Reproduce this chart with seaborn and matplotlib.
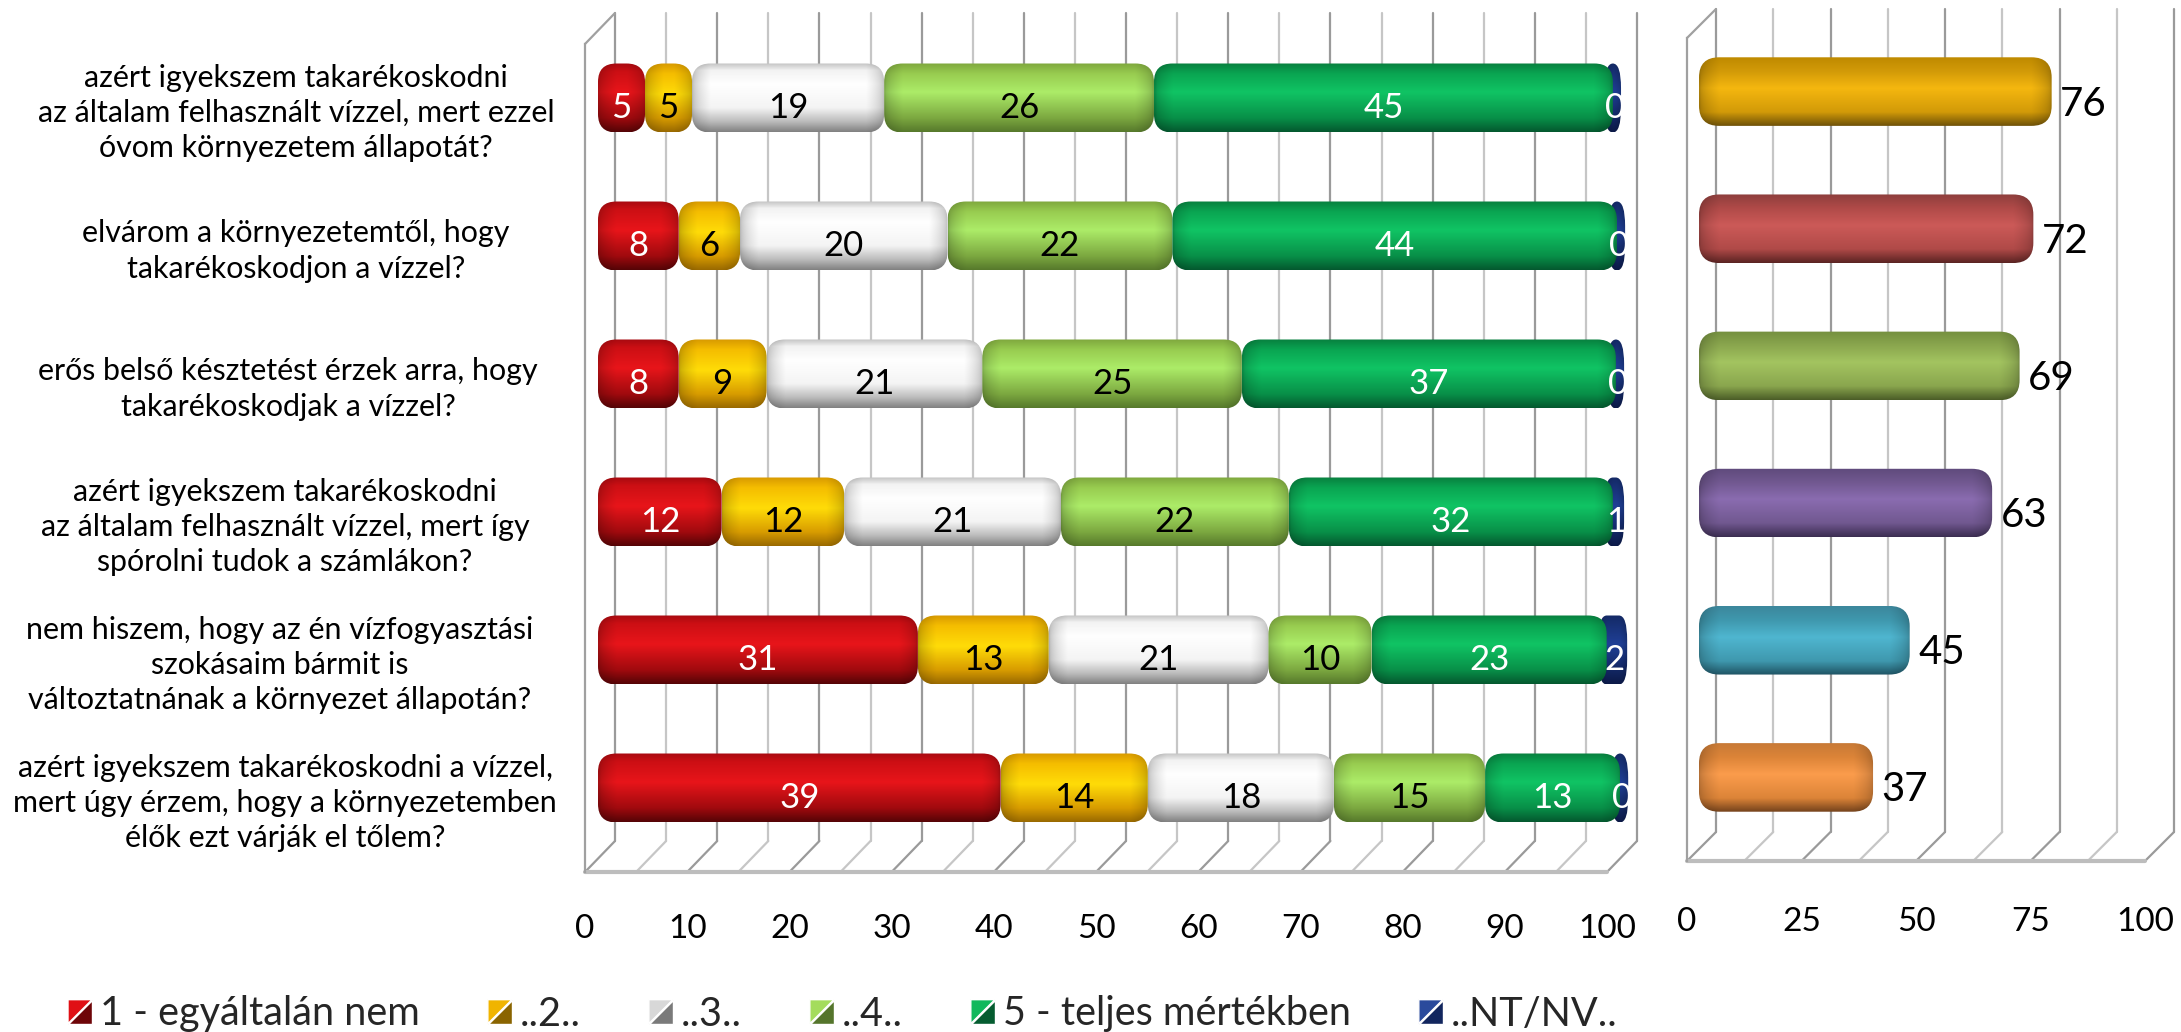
import numpy as np
import matplotlib
matplotlib.use('Agg')
import matplotlib.pyplot as plt
import seaborn as sns
from matplotlib.legend_handler import HandlerBase
from matplotlib.patches import FancyBboxPatch, Patch, Polygon

W, H = 2181, 1032

questions = [
    "azért igyekszem takarékoskodni\naz általam felhasznált vízzel, mert ezzel\nóvom környezetem állapotát?",
    "elvárom a környezetemtől, hogy\ntakarékoskodjon a vízzel?",
    "erős belső késztetést érzek arra, hogy\ntakarékoskodjak a vízzel?",
    "azért igyekszem takarékoskodni\naz általam felhasznált vízzel, mert így\nspórolni tudok a számlákon?",
    "nem hiszem, hogy az én vízfogyasztási\nszokásaim bármit is\nváltoztatnának a környezet állapotán?",
    "azért igyekszem takarékoskodni a vízzel,\nmert úgy érzem, hogy a környezetemben\nélők ezt várják el tőlem?",
]
legend_labels = ["1 - egyáltalán nem", "..2..", "..3..", "..4..", "5 - teljes mértékben", "..NT/NV.."]

# bar lengths, labels are what the chart prints
answer_1 = [4.6, 7.9, 7.9, 12.1, 31.3, 39.4]
answer_2 = [4.6, 6.0, 8.6, 12.0, 12.8, 14.4]
answer_3 = [18.8, 20.3, 21.1, 21.2, 21.5, 18.2]
answer_4 = [26.4, 22.0, 25.4, 22.3, 10.1, 14.8]
answer_5 = [44.9, 43.5, 36.6, 31.7, 23.0, 13.2]
answer_nt = [0.4, 0.4, 0.4, 0.7, 1.6, 0.4]
labels_1 = [5, 8, 8, 12, 31, 39]
labels_2 = [5, 6, 9, 12, 13, 14]
labels_3 = [19, 20, 21, 21, 21, 18]
labels_4 = [26, 22, 25, 22, 10, 15]
labels_5 = [45, 44, 37, 32, 23, 13]
labels_nt = [0, 0, 0, 1, 2, 0]

right_values = [76, 72, 69, 63, 45, 37]

# gradients, top to bottom: (position, colour)
RED = [(0, '#a80a10'), (.12, '#cc0f14'), (.42, '#e8151a'), (.8, '#a00a0e'), (1, '#560406')]
GOLD = [(0, '#d89a00'), (.15, '#f5bd00'), (.45, '#ffdc08'), (.8, '#d89c00'), (1, '#9a6a00')]
WHITE = [(0, '#c4c4c4'), (.1, '#f2f2f2'), (.3, '#ffffff'), (.65, '#f4f4f4'), (.85, '#bcbcbc'), (1, '#828282')]
LGREEN = [(0, '#7fa83e'), (.15, '#98cc50'), (.42, '#acec68'), (.8, '#7ca840'), (1, '#577a2c')]
GREEN = [(0, '#08803f'), (.15, '#0aa552'), (.42, '#10c464'), (.8, '#089048'), (1, '#04592f')]
NAVY = [(0, '#142a66'), (.42, '#1f3f96'), (1, '#0c1a48')]
stacked = [
    (answer_1, labels_1, RED, 'white'),
    (answer_2, labels_2, GOLD, 'black'),
    (answer_3, labels_3, WHITE, 'black'),
    (answer_4, labels_4, LGREEN, 'black'),
    (answer_5, labels_5, GREEN, 'white'),
    (answer_nt, labels_nt, NAVY, 'white'),
]
legend_tones = [('#e01015', '#6e0508'), ('#f0b400', '#8a6400'), ('#d8d8d8', '#7a7a7a'),
                ('#a4dc5c', '#55752c'), ('#10b85c', '#055c30'), ('#2a4a9c', '#12265e')]

RIGHT_STOPS = [
    [(0, c2), (.2, c1), (.45, c3), (.8, c1), (1, c4)]
    for c1, c2, c3, c4 in [
        ('#d29a08', '#bf8a00', '#f5b70f', '#6f5208'),
        ('#b04a48', '#8e3f3d', '#cc5a58', '#5c2423'),
        ('#8aa64e', '#75903f', '#a3c460', '#4c5e28'),
        ('#715890', '#5f4a7c', '#8a6cb0', '#3c2e52'),
        ('#3f98ae', '#3c879c', '#4fb6d0', '#1f5464'),
        ('#dc8438', '#c87a36', '#fb9c4c', '#75431c'),
    ]
]

# horizontal centre of each question block, in pixels
question_x = [296, 296, 288, 285, 280, 285]


def px_axes(x0, x1, y_top, y_bottom):
    return fig.add_axes([x0 / W, 1 - y_bottom / H, (x1 - x0) / W, (y_bottom - y_top) / H])


def glossy(ax, rect, stops, radius, aspect, extra=0, back=0, zorder=3):
    """Swap a square seaborn bar for a rounded one with a cylinder shading."""
    x, y, w, h = rect.get_x() - back, rect.get_y(), rect.get_width() + extra + back, rect.get_height()
    rect.set_visible(False)
    radius = min(radius, w / 2)
    pos = [s[0] for s in stops]
    rgb = np.array([matplotlib.colors.to_rgb(s[1]) for s in stops])
    ys = np.linspace(0, 1, 80)
    col = np.column_stack([np.interp(ys, pos, rgb[:, i]) for i in range(3)])
    xs = np.linspace(0, w, 200)
    ends = np.clip(np.minimum(xs, w - xs) / radius, 0, 1)
    fac = 0.72 + 0.28 * np.sqrt(ends)
    img = np.clip(col[:, None, :] * fac[None, :, None], 0, 1)
    shape = FancyBboxPatch((x, y), w, h, boxstyle=f'round,pad=0,rounding_size={radius}',
                           mutation_aspect=aspect, facecolor='none', edgecolor='none',
                           transform=ax.transData, clip_on=False)
    ax.add_patch(shape)
    im = ax.imshow(img, extent=(x, x + w, y + h, y), aspect='auto', zorder=zorder, interpolation='bilinear')
    im.set_clip_box(fig.bbox)
    im.set_clip_path(shape)


def draw_box(ax, step, major, depth_x, depth_y):
    """The open 3D box: back wall, floor and the two axis lines."""
    n = int(round(100 / step))
    for i in range(n + 1):
        k = i * step
        strong = i % 2 == 0
        c = '#9a9a9a' if strong else '#c6c6c6'
        lw = 1.6
        ax.plot([k + depth_x] * 2, [5.5 - depth_y, -0.5 - depth_y], color=c, lw=lw, clip_on=False, zorder=1)
        ax.plot([k, k + depth_x], [5.5, 5.5 - depth_y], color=c, lw=lw, clip_on=False, zorder=1)
    ax.plot([0, depth_x], [-0.5, -0.5 - depth_y], color='#a0a0a0', lw=1.6, clip_on=False, zorder=1)
    ax.plot([0, 100], [5.5, 5.5], color='#bdbdbd', lw=3, clip_on=False, zorder=1)
    for s in ['top', 'right', 'bottom']:
        ax.spines[s].set_visible(False)
    ax.spines['left'].set_color('#a0a0a0')
    ax.spines['left'].set_linewidth(1.6)
    ax.set_xlim(0, 100)
    ax.set_ylim(5.5, -0.5)
    ax.set_xticks(np.arange(0, 100 + major, major))
    ax.set_yticks(np.arange(-0.5, 6, 1))
    ax.set_yticklabels([])
    ax.tick_params(axis='x', length=10, width=1.2, color='#a8a8a8', labelsize=24, labelcolor='black')
    ax.set_facecolor('none')


class SplitSquare(HandlerBase):
    def create_artists(self, legend, orig, xd, yd, width, height, fontsize, trans):
        light, dark = orig.tones
        s = width
        y0 = (height - s) / 2
        a = Polygon([[0, y0], [s, y0 + s], [0, y0 + s]], facecolor=light, transform=trans)
        b = Polygon([[0, y0], [s, y0], [s, y0 + s]], facecolor=dark, transform=trans)
        return [a, b]


sns.set_theme(style='white')
plt.rcParams['font.family'] = ['Lato', 'DejaVu Sans']

fig = plt.figure(figsize=(W / 100, H / 100), dpi=100)
row_ids = [f'q{i}' for i in range(len(questions))]

# left chart
ax_box = px_axes(585, 1607, 44, 872)
draw_box(ax_box, 5, 10, 30 / 10.22, 31 / 138)
ax_box.tick_params(axis='y', length=7, width=1.2, color='#a8a8a8')
ax_box.tick_params(axis='x', pad=20)
for i, q in enumerate(questions):
    ax_box.annotate(q, xy=(question_x[i] / W, i), xycoords=('figure fraction', 'data'), ha='center', va='center',
                    multialignment='center', fontsize=21.9, linespacing=1.31, color='black')

ax_bars = px_axes(598, 1620, 29, 857)
left = np.zeros(len(row_ids))
aspect_l = (1 / 138) / (1 / 10.22)
for vals, labels, stops, txt in stacked:
    is_nt = stops is NAVY
    sns.barplot(x=vals, y=row_ids, left=left, width=0.5, orient='h', color='grey',
                errorbar=None, ax=ax_bars)
    for rect, lab in zip(ax_bars.containers[-1], labels):
        # the NT/NV sliver is a thin oval coming out from behind the green bar
        if is_nt:
            glossy(ax_bars, rect, stops, 0.8, aspect_l * 3, extra=0.4, back=0.8, zorder=2.5)
        else:
            glossy(ax_bars, rect, stops, 1.8, aspect_l)
        ax_bars.annotate(str(lab), xy=(rect.get_x() + rect.get_width() / 2, rect.get_y() + 0.25),
                         xytext=(0, -7), textcoords='offset points', ha='center', va='center',
                         fontsize=25, color=txt, zorder=5, annotation_clip=False)
    left = left + np.array(vals)
ax_bars.set_xlim(0, 100)
ax_bars.set_ylim(5.5, -0.5)
ax_bars.axis('off')

# right chart
ax_box2 = px_axes(1687, 2145, 38, 861)
draw_box(ax_box2, 12.5, 25, 29 / 4.58, 29 / 137.2)
ax_box2.tick_params(axis='y', length=0)
ax_box2.tick_params(axis='x', pad=23)

ax_bars2 = px_axes(1699, 2157, 23, 846)
sns.barplot(x=right_values, y=row_ids, width=0.5, orient='h', color='grey', errorbar=None, ax=ax_bars2)
aspect_r = (1 / 137.2) / (1 / 4.58)
for rect, val, stops in zip(ax_bars2.containers[-1], right_values, RIGHT_STOPS):
    glossy(ax_bars2, rect, stops, 4.4, aspect_r, extra=1)
    ax_bars2.annotate(str(val), xy=(rect.get_width() + 1, rect.get_y() + 0.25), xytext=(6, -9),
                      textcoords='offset points', ha='left', va='center', fontsize=29, color='black', zorder=5)
ax_bars2.set_xlim(0, 100)
ax_bars2.set_ylim(5.5, -0.5)
ax_bars2.axis('off')

# legend along the bottom
handles = []
for tones, lab in zip(legend_tones, legend_labels):
    h = Patch(label=lab)
    h.tones = tones
    handles.append(h)
fig.legend(handles=handles, handler_map={Patch: SplitSquare()}, loc='center left',
           bbox_to_anchor=(68 / W, 1 - 1014 / H), ncol=6, frameon=False, fontsize=28.5,
           handlelength=0.606, handleheight=0.7, handletextpad=0.2, columnspacing=1.72,
           borderpad=0, borderaxespad=0)

fig.savefig('out.png', dpi=100)
